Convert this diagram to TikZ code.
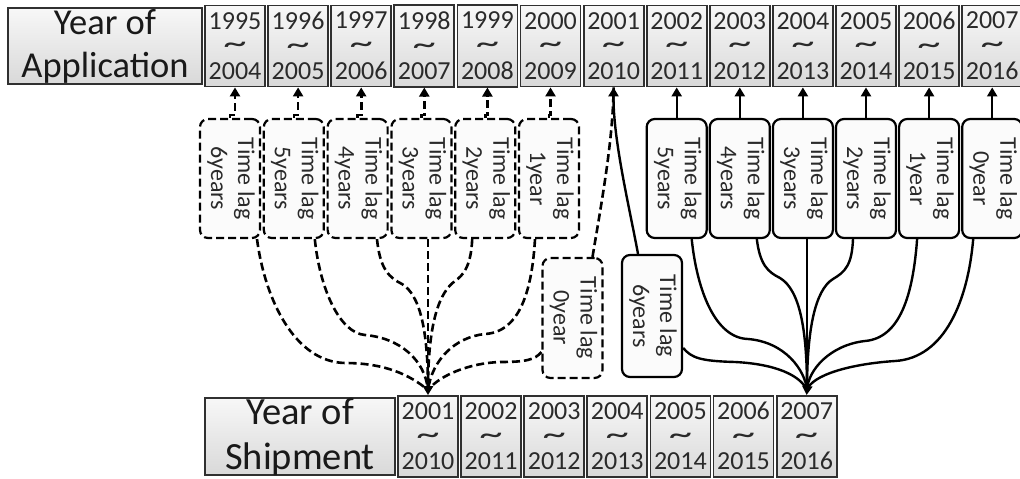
\documentclass[tikz,border=0pt]{standalone}
\usepackage{fontspec}
\setmainfont{Carlito}
\usetikzlibrary{arrows.meta}
\definecolor{edge}{HTML}{303030}
\definecolor{txt}{HTML}{2A2A2A}
\newcommand\wave{\smash{\scalebox{1.8}[1.2]{\textasciitilde}}}
\newcommand\yrtxt[2]{\raisebox{0pt}[\dimexpr\height+6pt\relax][\depth]{\begin{tabular}{@{}c@{}}#1\\\wave\\#2\end{tabular}}}
\newcommand\lagtxt[1]{\rotatebox{-90}{\begin{tabular}{@{}c@{}}Time lag\\#1\end{tabular}}}
\tikzset{
  yrbase/.style={draw=edge, line width=1.8pt, top color=gray!6, bottom color=gray!30,
    minimum width=60pt, minimum height=76pt, inner sep=0pt, text=txt},
  yr/.style={yrbase, font=\fontsize{26}{25}\selectfont},
  hdr/.style={yrbase, align=center, minimum width=194pt, text=black!90, font=\fontsize{36.5}{43}\selectfont},
  hdrb/.style={yrbase, align=center, minimum width=190pt, minimum height=77pt, text=black!90, font=\fontsize{38.5}{45}\selectfont},
  lagbase/.style={line width=2.2pt, rounded corners=8pt, minimum width=60pt,
    minimum height=119pt, inner sep=0pt, fill=gray!3, text=txt,
    font=\fontsize{24}{27}\selectfont},
  lagd/.style={lagbase, draw=black, dash pattern=on 8pt off 4pt},
  lags/.style={lagbase, draw=black},
  dline/.style={line width=2.6pt, dash pattern=on 8pt off 4pt},
  sline/.style={line width=2.4pt},
  arr/.style={-{Triangle[length=9pt,width=10pt]}}
}
\begin{document}
\begin{tikzpicture}[x=1pt,y=-1pt]
\useasboundingbox (0,0) rectangle (1020,479);
% top row
\node[hdr] (th) at (105,46) {Year of\\Application};
\foreach \i/\ya/\yb in {0/1995/2004,1/1996/2005,2/1997/2006,3/1998/2007,4/1999/2008,
  5/2000/2009,6/2001/2010,7/2002/2011,8/2003/2012,9/2004/2013,10/2005/2014,
  11/2006/2015,12/2007/2016}{
  \node[yr] (t\i) at ({235+63.1*\i},46) {\yrtxt{\ya}{\yb}};
}
% bottom row
\node[hdrb] (bh) at (300,436.5) {Year of\\Shipment};
\foreach \i/\ya/\yb in {0/2001/2010,1/2002/2011,2/2003/2012,3/2004/2013,
  4/2005/2014,5/2006/2015,6/2007/2016}{
  \node[yr, minimum height=77pt] (b\i) at ({428+63.1*\i},436.5) {\yrtxt{\ya}{\yb}};
}
% dashed lag boxes
\foreach \k/\t in {0/6years,1/5years,2/4years,3/3years,4/2years,5/1year}{
  \node[lagd] (d\k) at ({230+63.8*\k},178.5) {\lagtxt{\t}};
  \draw[dline, arr] (d\k.north) -- ++(0,-3) -| (t\k.south);
}
% solid lag boxes
\foreach \k/\j/\t in {0/7/5years,1/8/4years,2/9/3years,3/10/2years,4/11/1year,5/12/0year}{
  \node[lags] (s\k) at ({235+63.1*\j},178.5) {\lagtxt{\t}};
  \draw[sline, arr] (s\k.north) -- (t\j.south);
}
\node[lagd, minimum height=120pt] (z0) at (572.5,318) {\lagtxt{0year}};
\node[lags, minimum height=122pt] (l6) at (652,316) {\lagtxt{6years}};
% connectors to 2001
\draw[dline] ([xshift=20pt]z0.north) .. controls (602,200) and (613,140) .. (t6.south);
\draw[sline, arr] ([xshift=-14pt]l6.north) .. controls (630,210) and (613,140) .. (t6.south);
% convergence points
\coordinate (cd) at (428,390);
\coordinate (cs) at (807,390);
% dashed curves
\draw[dline] ([xshift=27pt]d0.south) .. controls (265,300) and (295,362) .. (345,363) .. controls (385,363) and (410,375) .. (cd);
\draw[dline] ([xshift=21pt]d1.south) .. controls (320,290) and (340,333) .. (365,335) .. controls (400,338) and (425,360) .. (cd);
\draw[dline] ([xshift=19.4pt]d2.south) .. controls (380,270) and (390,278) .. (402,284) .. controls (420,295) and (428,330) .. (cd);
\draw[dline] (d3.south -| cd) -- (cd);
\draw[dline] ([xshift=-13pt]d4.south) .. controls (471,268) and (462,276) .. (455,281) .. controls (440,292) and (428,320) .. (cd);
\draw[dline] ([xshift=-14pt]d5.south) .. controls (532,290) and (520,332) .. (485,334) .. controls (455,337) and (432,360) .. (cd);
\draw[dline] ([yshift=-34pt]z0.west) .. controls (535,360) and (525,362) .. (500,362) .. controls (470,363) and (440,375) .. (cd);
\draw[sline, arr] (cd) -- (b0.north);
% solid curves
\draw[sline] ([xshift=15pt]s0.south) .. controls (697,290) and (715,338) .. (748,339) .. controls (785,342) and (805,370) .. (cs);
\draw[sline] ([xshift=17pt]s1.south) .. controls (760,265) and (768,272) .. (780,278) .. controls (800,290) and (807,330) .. (cs);
\draw[sline] (s2.south -| cs) -- (cs);
\draw[sline] ([xshift=-13pt]s3.south) .. controls (852,265) and (845,272) .. (833,279) .. controls (815,290) and (807,330) .. (cs);
\draw[sline] ([xshift=-12pt]s4.south) .. controls (913,295) and (900,338) .. (865,341) .. controls (830,345) and (808,370) .. (cs);
\draw[sline] ([xshift=-19pt]s5.south) .. controls (968,300) and (945,358) .. (895,361) .. controls (850,364) and (812,375) .. (cs);
\draw[sline] ([yshift=-32pt]l6.east) .. controls (692,358) and (700,361) .. (735,362) .. controls (775,364) and (800,375) .. (cs);
\draw[sline, arr] (cs) -- (b6.north);
\end{tikzpicture}
\end{document}
